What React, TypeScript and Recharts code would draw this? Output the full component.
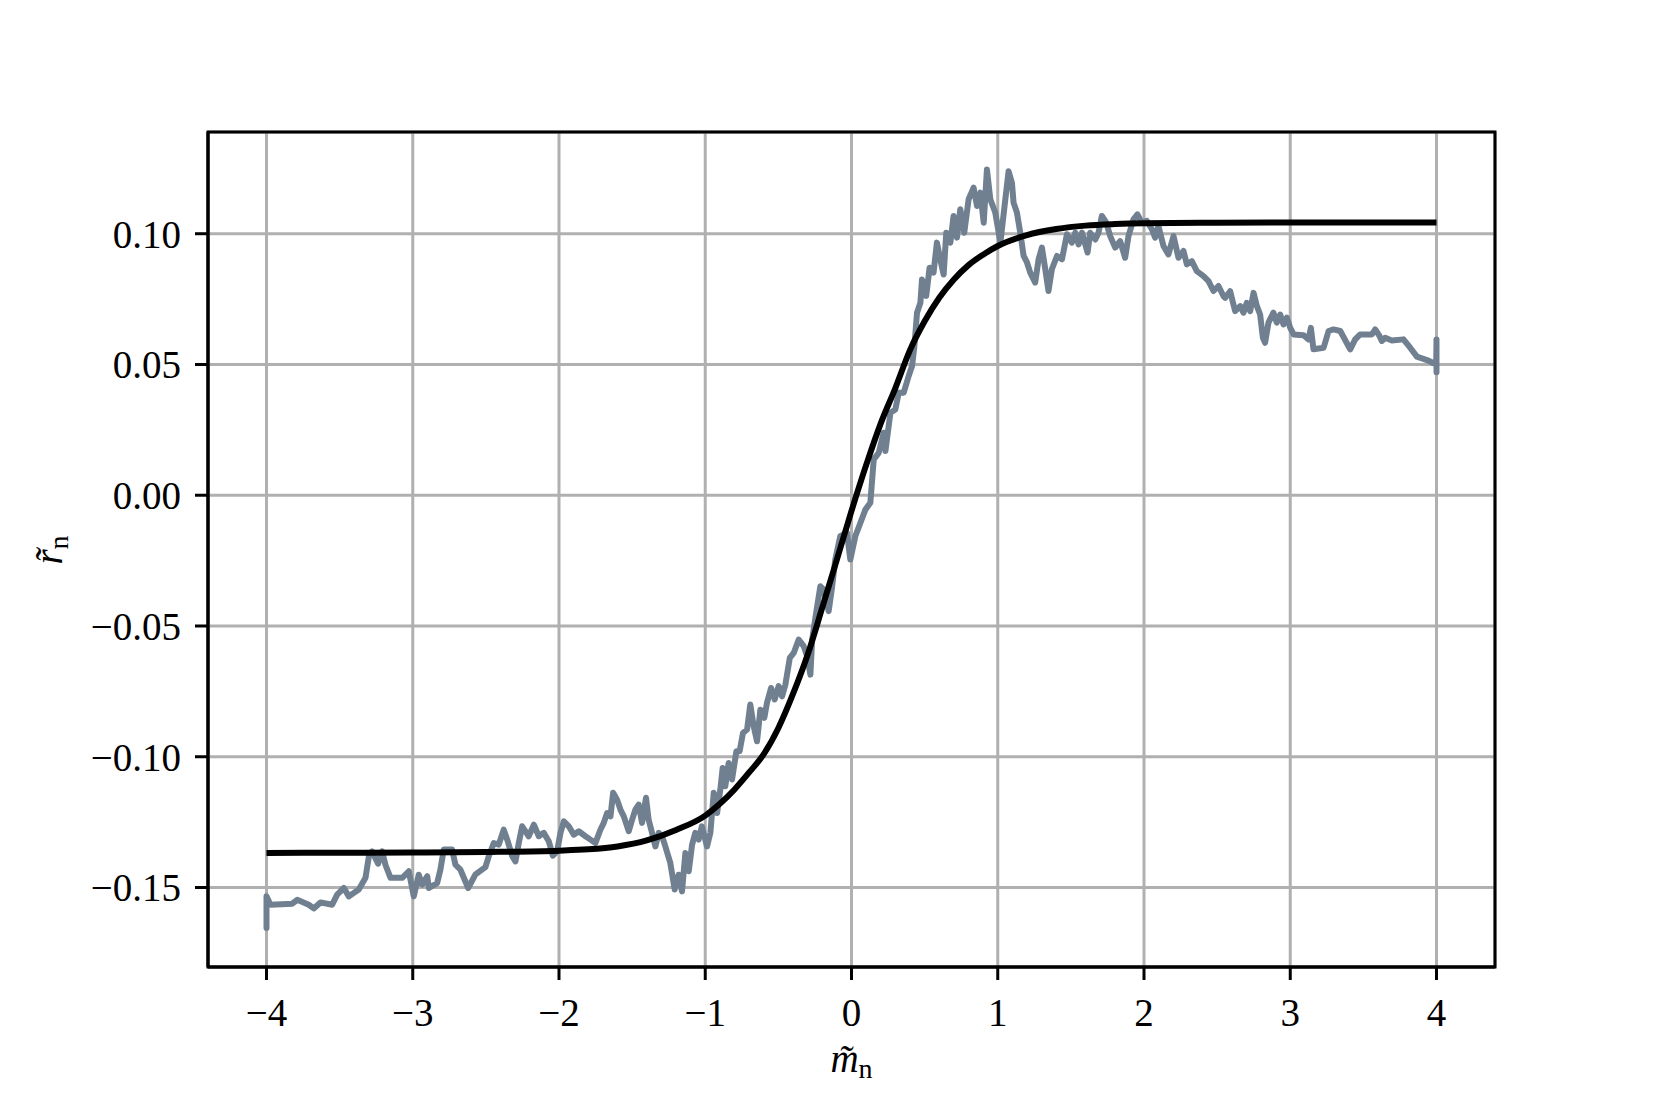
import { LineChart, Line, XAxis, YAxis, CartesianGrid, ReferenceArea } from 'recharts'

const measuredM = [
  -4.0, -4.0, -3.973, -3.824, -3.79, -3.711, -3.677, -3.631, -3.551, -3.517, -3.471, -3.437, -3.369, -3.323, -3.3,
  -3.278, -3.237, -3.209, -3.187, -3.152, -3.072, -3.027, -2.993, -2.959, -2.936, -2.901, -2.89, -2.833, -2.811,
  -2.788, -2.731, -2.708, -2.674, -2.621, -2.571, -2.503, -2.48, -2.446, -2.412, -2.378, -2.354, -2.32, -2.298,
  -2.275, -2.252, -2.207, -2.172, -2.138, -2.104, -2.07, -2.042, -2.013, -1.99, -1.967, -1.933, -1.899, -1.865,
  -1.819, -1.785, -1.751, -1.717, -1.694, -1.671, -1.648, -1.63, -1.603, -1.58, -1.557, -1.523, -1.5, -1.478,
  -1.455, -1.432, -1.405, -1.387, -1.364, -1.341, -1.318, -1.295, -1.273, -1.239, -1.209, -1.182, -1.159, -1.136,
  -1.113, -1.09, -1.068, -1.045, -1.023, -0.988, -0.965, -0.942, -0.919, -0.897, -0.881, -0.863, -0.84, -0.817,
  -0.787, -0.765, -0.742, -0.714, -0.692, -0.669, -0.646, -0.623, -0.596, -0.578, -0.55, -0.525, -0.498, -0.475,
  -0.452, -0.422, -0.395, -0.361, -0.327, -0.303, -0.281, -0.269, -0.247, -0.213, -0.19, -0.156, -0.133, -0.111,
  -0.077, -0.031, -0.008, 0.026, 0.061, 0.095, 0.129, 0.152, 0.186, 0.22, 0.232, 0.266, 0.3, 0.323, 0.357, 0.391,
  0.414, 0.43, 0.448, 0.471, 0.482, 0.511, 0.534, 0.561, 0.584, 0.607, 0.63, 0.648, 0.676, 0.698, 0.721, 0.744,
  0.771, 0.801, 0.835, 0.858, 0.881, 0.904, 0.926, 0.949, 0.983, 1.018, 1.052, 1.074, 1.097, 1.108, 1.131, 1.154,
  1.177, 1.2, 1.222, 1.256, 1.279, 1.302, 1.325, 1.347, 1.37, 1.405, 1.439, 1.473, 1.507, 1.53, 1.553, 1.576, 1.614,
  1.632, 1.667, 1.689, 1.712, 1.742, 1.769, 1.803, 1.837, 1.871, 1.894, 1.928, 1.955, 1.985, 2.019, 2.054, 2.076,
  2.099, 2.133, 2.167, 2.202, 2.236, 2.27, 2.293, 2.327, 2.361, 2.407, 2.441, 2.475, 2.509, 2.544, 2.555, 2.589,
  2.623, 2.658, 2.68, 2.703, 2.726, 2.749, 2.772, 2.794, 2.813, 2.828, 2.851, 2.885, 2.908, 2.931, 2.954, 2.977,
  3.0, 3.023, 3.091, 3.125, 3.141, 3.159, 3.228, 3.262, 3.296, 3.342, 3.41, 3.444, 3.478, 3.558, 3.581, 3.61, 3.626,
  3.649, 3.695, 3.774, 3.82, 3.866, 3.935, 3.998, 4.0, 4.0,
]
const measuredR = [
  -0.1655, -0.1533, -0.1566, -0.1562, -0.1547, -0.1566, -0.158, -0.1557, -0.1566, -0.1527, -0.1502, -0.1534, -0.1508,
  -0.1463, -0.1381, -0.1362, -0.1409, -0.1362, -0.1413, -0.1463, -0.1463, -0.1438, -0.1534, -0.1451, -0.1489, -0.1457,
  -0.1502, -0.1483, -0.1432, -0.1355, -0.1355, -0.1413, -0.1432, -0.1502, -0.145, -0.1422, -0.138, -0.133, -0.1336,
  -0.1279, -0.1317, -0.138, -0.14, -0.133, -0.1266, -0.1304, -0.126, -0.1304, -0.1291, -0.1323, -0.1378, -0.1362,
  -0.1291, -0.1247, -0.1266, -0.1298, -0.1285, -0.1304, -0.1317, -0.133, -0.1279, -0.1253, -0.1215, -0.1228, -0.1138,
  -0.1164, -0.1202, -0.1228, -0.1285, -0.1241, -0.1202, -0.1183, -0.1253, -0.1157, -0.1241, -0.1291, -0.1343, -0.1291,
  -0.1304, -0.1343, -0.1406, -0.1508, -0.1451, -0.1515, -0.1368, -0.1438, -0.1336, -0.1291, -0.1317, -0.1266, -0.1343,
  -0.1291, -0.1138, -0.1215, -0.1126, -0.1043, -0.1113, -0.1024, -0.1087, -0.0979, -0.0979, -0.0909, -0.0896, -0.08,
  -0.0883, -0.0941, -0.082, -0.0851, -0.0794, -0.0737, -0.0781, -0.073, -0.0769, -0.0724, -0.0622, -0.0603, -0.0552,
  -0.0577, -0.0616, -0.0686, -0.0552, -0.0469, -0.0348, -0.0361, -0.0443, -0.0352, -0.0246, -0.0157, -0.0144, -0.0246,
  -0.0157, -0.0105, -0.0055, -0.0029, 0.0137, 0.0162, 0.0239, 0.0169, 0.0315, 0.0328, 0.0392, 0.0392, 0.0456, 0.0494,
  0.057, 0.0698, 0.0736, 0.0825, 0.0762, 0.087, 0.0851, 0.0966, 0.0902, 0.0844, 0.1004, 0.0966, 0.1068, 0.0985,
  0.1094, 0.1004, 0.1132, 0.1176, 0.1106, 0.1157, 0.1042, 0.1246, 0.1132, 0.1081, 0.0966, 0.1132, 0.1239, 0.1195,
  0.1119, 0.1081, 0.1004, 0.0915, 0.089, 0.0851, 0.0813, 0.0902, 0.0947, 0.0864, 0.0781, 0.0864, 0.0915, 0.0902,
  0.0998, 0.0966, 0.1004, 0.0959, 0.1004, 0.0928, 0.1004, 0.0978, 0.1004, 0.1068, 0.1042, 0.0991, 0.0947, 0.0972,
  0.0908, 0.0991, 0.1055, 0.1074, 0.1042, 0.1049, 0.1017, 0.0985, 0.1029, 0.0953, 0.0921, 0.0991, 0.0908, 0.0934,
  0.0883, 0.0895, 0.0857, 0.0838, 0.0819, 0.0781, 0.08, 0.0761, 0.0755, 0.078, 0.0704, 0.0723, 0.0698, 0.0736,
  0.0704, 0.0774, 0.0723, 0.0691, 0.0602, 0.0583, 0.066, 0.0698, 0.066, 0.0691, 0.0653, 0.0679, 0.064, 0.0615,
  0.0612, 0.0596, 0.064, 0.0558, 0.0564, 0.0628, 0.0634, 0.0628, 0.0558, 0.0596, 0.0615, 0.0615, 0.0634, 0.0609,
  0.059, 0.0602, 0.0592, 0.0596, 0.0564, 0.053, 0.0517, 0.05, 0.0596, 0.047,
]

// fitted curve (black)
const fitM = [
  -4.0, -3.5, -3.0, -2.5, -2.0, -1.8, -1.6, -1.4, -1.2, -1.0, -0.9, -0.8, -0.7, -0.6, -0.5, -0.4, -0.3, -0.2, -0.1,
  0.0, 0.1, 0.2, 0.3, 0.4, 0.5, 0.6, 0.7, 0.8, 0.9, 1.0, 1.2, 1.4, 1.6, 1.8, 2.0, 2.5, 3.0, 3.5, 4.0,
]
const fitR = [
  -0.1368, -0.1367, -0.1366, -0.1364, -0.1359, -0.1354, -0.1343, -0.132, -0.128, -0.1225, -0.118, -0.1125, -0.106,
  -0.099, -0.089, -0.076, -0.061, -0.043, -0.0246, -0.006, 0.0115, 0.0275, 0.041, 0.0555, 0.0665, 0.0755, 0.0825,
  0.088, 0.092, 0.0953, 0.0995, 0.1018, 0.1031, 0.1037, 0.104, 0.1042, 0.1043, 0.1043, 0.1043,
]

const xTicks = [-4, -3, -2, -1, 0, 1, 2, 3, 4]
const yTicks = [-0.15, -0.1, -0.05, 0, 0.05, 0.1]

const measured = measuredM.map((m, i) => ({ m, r: measuredR[i] }))
const fit = fitM.map((m, i) => ({ m, r: fitR[i] }))

const FONT = '"Liberation Serif", "DejaVu Serif", serif'
const X_DOMAIN: [number, number] = [-4.4, 4.4]
const Y_DOMAIN: [number, number] = [-0.1804, 0.1389]

const minus = (s: string) => s.replace('-', '\u2212')

function XLabel({ viewBox }: any) {
  const cx = viewBox.x + viewBox.width / 2
  return (
    <text x={cx} y={viewBox.y + 105} textAnchor="middle" fontFamily={FONT} fontSize={39} fill="#000">
      <tspan fontStyle="italic">m&#771;</tspan>
      <tspan fontSize={28} dy={6}>n</tspan>
    </text>
  )
}

function YLabel() {
  const x = 62
  const y = 550
  return (
    <text x={x} y={y} transform={`rotate(-90, ${x}, ${y})`} textAnchor="middle" fontFamily={FONT} fontSize={39} fill="#000">
      <tspan fontStyle="italic">r&#771;</tspan>
      <tspan fontSize={28} dy={6}>n</tspan>
    </text>
  )
}

export default function App() {
  return (
    <div style={{ position: 'absolute', left: 0, top: 0, width: 1661, height: 1107, background: '#fff' }}>
      <LineChart width={1661} height={1107} margin={{ top: 132, right: 166, bottom: 0, left: 0 }}>
        <CartesianGrid stroke="#b0b0b0" strokeWidth={3} />
        <XAxis
          dataKey="m"
          type="number"
          domain={X_DOMAIN}
          allowDataOverflow
          ticks={xTicks}
          height={140}
          tickSize={13}
          tickMargin={18}
          tickLine={{ stroke: '#000', strokeWidth: 3 }}
          axisLine={{ stroke: '#000', strokeWidth: 3 }}
          tick={{ fill: '#000', fontSize: 39, fontFamily: FONT }}
          tickFormatter={(v: number) => minus(String(v))}
          label={<XLabel />}
        />
        <YAxis
          type="number"
          domain={Y_DOMAIN}
          allowDataOverflow
          ticks={yTicks}
          width={208}
          tickSize={13}
          tickMargin={14}
          tickLine={{ stroke: '#000', strokeWidth: 3 }}
          axisLine={{ stroke: '#000', strokeWidth: 3 }}
          tick={{ fill: '#000', fontSize: 39, fontFamily: FONT }}
          tickFormatter={(v: number) => minus(v.toFixed(2))}
          label={<YLabel />}
        />
        <Line data={measured} dataKey="r" type="linear" stroke="#708090" strokeWidth={6} dot={false}
          strokeLinejoin="round" strokeLinecap="round" isAnimationActive={false} />
        <Line data={fit} dataKey="r" type="monotone" stroke="#000" strokeWidth={6} dot={false}
          isAnimationActive={false} />
        <ReferenceArea x1={X_DOMAIN[0]} x2={X_DOMAIN[1]} y1={Y_DOMAIN[0]} y2={Y_DOMAIN[1]} ifOverflow="visible"
          fill="none" stroke="#000" strokeWidth={3} />
      </LineChart>
    </div>
  )
}
